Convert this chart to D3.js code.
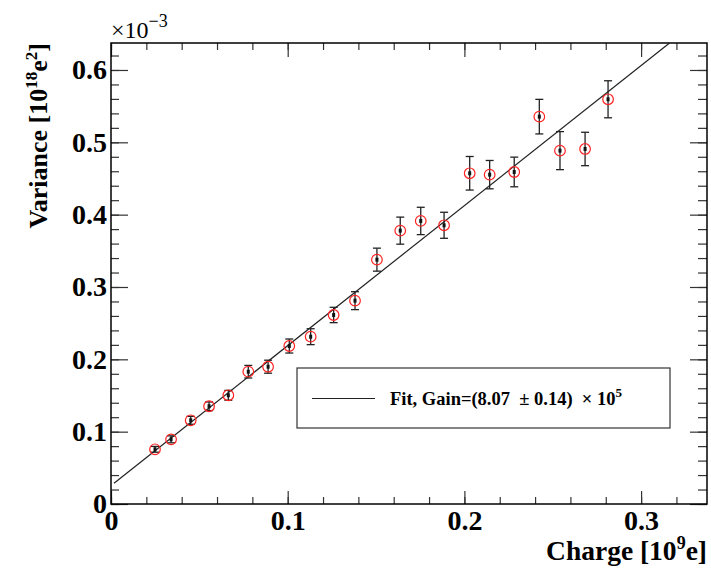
<!DOCTYPE html>
<html>
<head>
<meta charset="utf-8">
<script src="https://cdn.jsdelivr.net/npm/d3@7"></script>
<style>
  body { margin: 0; background: #fff; }
  text { font-family: "Liberation Serif", "Times New Roman", serif; }
</style>
</head>
<body>
<div id="chart"></div>
<script>
// measured points (charge in 1e9 e, variance in 1e-3 x 1e18 e^2)
const charge = [0.0249, 0.0340, 0.0451, 0.0555, 0.0664, 0.0777, 0.0889, 0.1009, 0.1130, 0.1260, 0.1381,
                0.1505, 0.1637, 0.1753, 0.1885, 0.2030, 0.2143, 0.2282, 0.2424, 0.2541, 0.2683, 0.2813];
const variance = [0.0756, 0.0894, 0.1157, 0.1351, 0.1503, 0.1829, 0.1898, 0.2184, 0.2313, 0.2613, 0.2811,
                  0.3378, 0.3779, 0.3913, 0.3853, 0.4572, 0.4553, 0.4590, 0.5355, 0.4885, 0.4908, 0.5595];
const varErr = [0.0040, 0.0048, 0.0055, 0.0060, 0.0068, 0.0087, 0.0090, 0.0097, 0.0110, 0.0106, 0.0124,
                0.0159, 0.0187, 0.0189, 0.0180, 0.0232, 0.0196, 0.0205, 0.0239, 0.0263, 0.0231, 0.0256];

// linear fit
const fitIntercept = 0.0253;
const fitSlope = 1.936;
const fitStart = 0.0017;

const xTicks = [0, 0.1, 0.2, 0.3];
const yTicks = [0, 0.1, 0.2, 0.3, 0.4, 0.5, 0.6];

const W = 711, H = 568;
const frame = { left: 111, right: 707, top: 43, bottom: 504 };

const svg = d3.select("#chart").append("svg")
  .attr("width", W).attr("height", H);

const x = d3.scaleLinear().domain([0, 0.3373]).range([frame.left, frame.right]);
const y = d3.scaleLinear().domain([0, 0.6373]).range([frame.bottom, frame.top]);

const xMinor = d3.range(0, 0.3373, 0.02);
const yMinor = d3.range(0, 0.6373, 0.02);
const fmt = d => d === 0 ? "0" : d.toFixed(1);

// minor ticks on all four sides
function minorAxis(axis, pos, size) {
  svg.append("g")
    .attr("transform", pos)
    .call(axis.tickSize(size).tickFormat(""))
    .call(g => g.select(".domain").remove())
    .call(g => g.selectAll("line").attr("stroke", "#333").attr("stroke-width", 1.2));
}
minorAxis(d3.axisBottom(x).tickValues(xMinor), `translate(0,${frame.bottom})`, -7);
minorAxis(d3.axisTop(x).tickValues(xMinor), `translate(0,${frame.top})`, -7);
minorAxis(d3.axisLeft(y).tickValues(yMinor), `translate(${frame.left},0)`, -8);
minorAxis(d3.axisRight(y).tickValues(yMinor), `translate(${frame.right},0)`, -9);

// major ticks
const xAxis = svg.append("g")
  .attr("transform", `translate(0,${frame.bottom})`)
  .call(d3.axisBottom(x).tickValues(xTicks).tickSize(-13).tickPadding(6).tickFormat(fmt));
xAxis.select(".domain").remove();

svg.append("g")
  .attr("transform", `translate(0,${frame.top})`)
  .call(d3.axisTop(x).tickValues(xTicks).tickSize(-14).tickFormat(""))
  .select(".domain").remove();

const yAxis = svg.append("g")
  .attr("transform", `translate(${frame.left},0)`)
  .call(d3.axisLeft(y).tickValues(yTicks).tickSize(-17).tickPadding(4).tickFormat(fmt));
yAxis.select(".domain").remove();

svg.append("g")
  .attr("transform", `translate(${frame.right},0)`)
  .call(d3.axisRight(y).tickValues(yTicks).tickSize(-17).tickFormat(""))
  .select(".domain").remove();

svg.selectAll(".tick line").attr("stroke", "#333").attr("stroke-width", 1.2);
svg.selectAll(".tick text")
  .attr("fill", "#000")
  .style("font-family", "'Liberation Serif', serif")
  .style("font-weight", "bold")
  .style("font-size", "28px");

// frame
svg.append("rect")
  .attr("x", frame.left).attr("y", frame.top)
  .attr("width", frame.right - frame.left).attr("height", frame.bottom - frame.top)
  .attr("fill", "none").attr("stroke", "#000").attr("stroke-width", 1.5);

// exponent
const expo = svg.append("text")
  .attr("x", frame.left).attr("y", 38)
  .style("font-size", "24px");
expo.append("tspan").text("\u00d710");
expo.append("tspan").attr("dy", -11).style("font-size", "18px").text("\u22123");

// axis titles
const xt = svg.append("text")
  .attr("x", frame.right).attr("y", 560)
  .attr("text-anchor", "end")
  .style("font-size", "27.5px").style("font-weight", "bold");
xt.append("tspan").text("Charge [10");
xt.append("tspan").attr("dy", -11).style("font-size", "18px").text("9");
xt.append("tspan").attr("dy", 11).text("e]");

const yt = svg.append("text")
  .attr("transform", `translate(47,${frame.top}) rotate(-90)`)
  .attr("text-anchor", "end")
  .style("font-size", "26px").style("font-weight", "bold");
yt.append("tspan").text("Variance [10");
yt.append("tspan").attr("dy", -10).style("font-size", "17px").text("18");
yt.append("tspan").attr("dy", 10).text("e");
yt.append("tspan").attr("dy", -10).style("font-size", "17px").text("2");
yt.append("tspan").attr("dy", 10).text("]");

// fit line
const fitEnd = (y.domain()[1] - fitIntercept) / fitSlope;
svg.append("line")
  .attr("x1", x(fitStart)).attr("y1", y(fitIntercept + fitSlope * fitStart))
  .attr("x2", x(fitEnd)).attr("y2", y(fitIntercept + fitSlope * fitEnd))
  .attr("stroke", "#222").attr("stroke-width", 1.2);

// points with error bars
const pts = charge.map((c, i) => ({ c, v: variance[i], e: varErr[i] }));
const g = svg.append("g");
const p = g.selectAll("g").data(pts).join("g");
p.append("line")
  .attr("x1", d => x(d.c)).attr("x2", d => x(d.c))
  .attr("y1", d => y(d.v - d.e)).attr("y2", d => y(d.v + d.e))
  .attr("stroke", "#222").attr("stroke-width", 1.3);
p.selectAll(".cap").data(d => [[d.c, d.v - d.e], [d.c, d.v + d.e]]).join("line")
  .attr("class", "cap")
  .attr("x1", d => x(d[0]) - 4).attr("x2", d => x(d[0]) + 4)
  .attr("y1", d => y(d[1])).attr("y2", d => y(d[1]))
  .attr("stroke", "#222").attr("stroke-width", 1.3);
p.append("circle")
  .attr("cx", d => x(d.c)).attr("cy", d => y(d.v)).attr("r", 5.3)
  .attr("fill", "none").attr("stroke", "#f22").attr("stroke-width", 1.2);
p.append("rect")
  .attr("x", d => x(d.c) - 1.5).attr("y", d => y(d.v) - 2)
  .attr("width", 3).attr("height", 4).attr("fill", "#111");

// legend
const leg = svg.append("g");
leg.append("rect")
  .attr("x", 297).attr("y", 368).attr("width", 373).attr("height", 60)
  .attr("fill", "#fff").attr("stroke", "#333").attr("stroke-width", 1.2);
leg.append("line")
  .attr("x1", 312).attr("x2", 375).attr("y1", 398.5).attr("y2", 398.5)
  .attr("stroke", "#222").attr("stroke-width", 1.2);
const lt = leg.append("text")
  .attr("x", 390).attr("y", 405)
  .style("font-size", "18.5px").style("font-weight", "bold");
lt.append("tspan").text("Fit, Gain=(8.07 \u00a0\u00b1 0.14) \u00a0\u00d7 10");
lt.append("tspan").attr("dy", -8).style("font-size", "13px").text("5");
</script>
</body>
</html>
